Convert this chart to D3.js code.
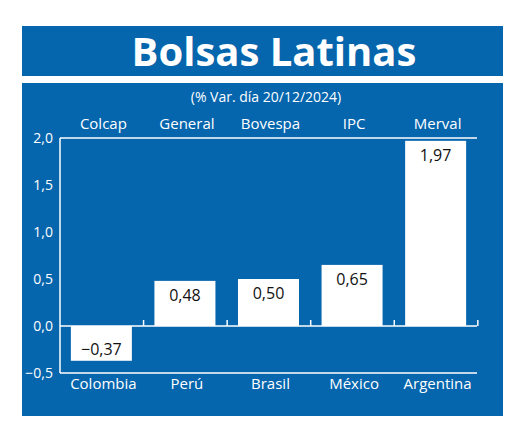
<!DOCTYPE html>
<html><head><meta charset="utf-8">
<script src="https://cdn.jsdelivr.net/npm/d3@7"></script>
<style>body{margin:0;background:#fff}</style></head>
<body><script>
var paises = ['Colombia','Perú','Brasil','México','Argentina'];
var indices = ['Colcap','General','Bovespa','IPC','Merval'];
var valores = [-0.37, 0.48, 0.50, 0.65, 1.97];
var ticks = [-0.5, 0, 0.5, 1.0, 1.5, 2.0];
var blue = '#0565ad';
var font = '"Open Sans", "Noto Sans", sans-serif';
var fmt = function(v){ return d3.format('.2f')(v).replace('.', ','); };

var svg = d3.select('body').append('svg').attr('width',520).attr('height',436);
svg.append('rect').attr('x',22).attr('y',26).attr('width',481).attr('height',50).attr('fill',blue);
svg.append('rect').attr('x',22).attr('y',83).attr('width',481).attr('height',333).attr('fill',blue);
svg.append('text').attr('x',274).attr('y',66).attr('text-anchor','middle')
	.attr('font-family',font).attr('font-weight','bold').attr('font-size',40).attr('fill','#fff')
	.text('Bolsas Latinas');
svg.append('text').attr('x',266).attr('y',102).attr('text-anchor','middle')
	.attr('font-family',font).attr('font-size',14).attr('fill','#fff')
	.text('(% Var. día 20/12/2024)');

var x = d3.scaleBand().domain(paises).range([60,477]).paddingInner(0.27).paddingOuter(0.13);
var y = d3.scaleLinear().domain([-0.5,2.0]).range([373,138]);

var g = svg.append('g');
g.selectAll('rect.bar').data(valores).enter().append('rect')
	.attr('x',function(d,i){ return x(paises[i]); })
	.attr('width',x.bandwidth())
	.attr('y',function(d){ return y(Math.max(0,d)); })
	.attr('height',function(d){ return Math.abs(y(d)-y(0)); })
	.attr('fill','#fff');
g.selectAll('text.val').data(valores).enter().append('text')
	.attr('x',function(d,i){ return x(paises[i])+x.bandwidth()/2; })
	.attr('y',function(d){ return d<0 ? y(d)-6 : y(d)+20; })
	.attr('text-anchor','middle').attr('font-family',font).attr('font-size',16).attr('fill','#111')
	.text(fmt);

// axis lines
var axisCol = '#fff';
svg.append('line').attr('x1',60).attr('x2',477).attr('y1',y(2)).attr('y2',y(2)).attr('stroke',axisCol).attr('stroke-width',1.5);
svg.append('line').attr('x1',60).attr('x2',477).attr('y1',y(-0.5)).attr('y2',y(-0.5)).attr('stroke',axisCol).attr('stroke-width',1.5);
svg.append('line').attr('x1',60).attr('x2',60).attr('y1',y(2)).attr('y2',y(-0.5)).attr('stroke',axisCol).attr('stroke-width',1.5);
svg.append('line').attr('x1',60).attr('x2',477).attr('y1',y(0)).attr('y2',y(0)).attr('stroke',axisCol).attr('stroke-width',1.5);
var step = x.step();
svg.selectAll('line.tk').data(paises).enter().append('line')
	.attr('x1',function(d,i){ return 60+step*(i+1)-step*0.0+ (i==4?0:0); })
	.attr('x2',function(d,i){ return 60+step*(i+1); })
	.attr('y1',y(0)).attr('y2',y(0)-6).attr('stroke',axisCol).attr('stroke-width',1.5);

svg.selectAll('text.yt').data(ticks).enter().append('text')
	.attr('x',53).attr('y',function(d){ return y(d)+5; })
	.attr('text-anchor','end').attr('font-family',font).attr('font-size',14).attr('fill','#fff')
	.text(function(d){ return d3.format('.1f')(d).replace('.', ','); });

svg.selectAll('text.ind').data(indices).enter().append('text')
	.attr('x',function(d,i){ return x(paises[i])+x.bandwidth()/2+2; })
	.attr('y',129).attr('text-anchor','middle').attr('font-family',font).attr('font-size',15).attr('fill','#fff')
	.text(function(d){ return d; });
svg.selectAll('text.pais').data(paises).enter().append('text')
	.attr('x',function(d,i){ return x(d)+x.bandwidth()/2+2; })
	.attr('y',389).attr('text-anchor','middle').attr('font-family',font).attr('font-size',15).attr('fill','#fff')
	.text(function(d){ return d; });
</script></body></html>
